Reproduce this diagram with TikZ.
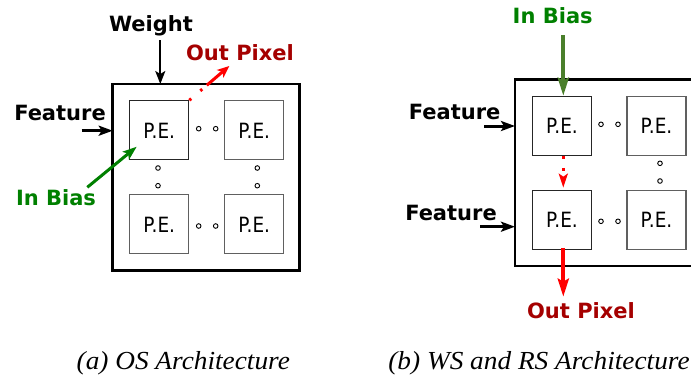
\documentclass[tikz,border=0pt]{standalone}
\usepackage{fontspec}
\setmainfont{DejaVu Sans}
\newfontfamily\pefont[FakeStretch=0.88]{DejaVu Sans}
\newfontfamily\capfont[FakeStretch=1.05]{Liberation Serif}
\usetikzlibrary{arrows.meta}
\definecolor{outred}{HTML}{A50000}
\definecolor{biasgreen}{HTML}{008000}
\definecolor{olivegreen}{HTML}{4A7F2B}
\definecolor{arrred}{HTML}{FF0000}
\definecolor{pegray}{HTML}{606060}
\tikzset{
  lbl/.style={font=\fontsize{21}{21}\selectfont\bfseries, inner sep=0pt, anchor=base},
  pebox/.style={draw=pegray, line width=1.2pt, minimum width=59pt, minimum height=59pt,
    inner sep=0pt, font=\pefont\fontsize{21}{21}\selectfont},
  pedark/.style={pebox, draw=black!85},
  outer/.style={minimum width=186.6pt, minimum height=186.7pt, inner sep=0pt, outer sep=0pt},
  frame/.style={draw, line width=2.7pt, line join=miter},
  ring/.style={draw, line width=0.9pt, circle, minimum size=4.6pt, inner sep=0pt},
  caption/.style={font=\capfont\itshape\fontsize{26}{26}\selectfont, inner sep=0pt, anchor=base},
  tip/.style={-{Stealth[length=#1, width=10pt, inset=3pt]}},
  tip/.default=13pt
}
\begin{document}
\begin{tikzpicture}[x=1pt, y=-1pt]
\useasboundingbox (0,0) rectangle (691,376);
\fill[white] (0,0) rectangle (691,376);

% ---------- (a) output stationary array ----------
\node[outer] (boxA) at (206,177.35) {};
\draw[frame] (boxA.north west) rectangle (boxA.south east);
\node[pedark] (a11) at (159.2,130.35) {P.E.};
\node[pebox]  (a12) at (254.2,130.35) {P.E.};
\node[pebox]  (a21) at (159.2,224.35) {P.E.};
\node[pebox]  (a22) at (254.2,224.35) {P.E.};

\node[ring] (ra1) at (198.7,128.7) {};
\node[ring] (ra2) at (215.7,128.7) {};
\node[ring] (ra3) at (198.7,226) {};
\node[ring] (ra4) at (215.7,226) {};
\node[ring] (ra5) at (158,168) {};
\node[ring] (ra6) at (158,185.7) {};
\node[ring] (ra7) at (257.3,168) {};
\node[ring] (ra8) at (257.3,185.7) {};

\node[lbl] (weightA) at (151,31.7) {Weight};
\node[lbl, text=outred] (outA) at (240,60) {Out Pixel};
\node[lbl] (featA) at (60,120.7) {Feature};
\node[lbl, text=biasgreen] (biasA) at (56,205) {In Bias};

\coordinate (wA) at (160.3,40);
\draw[tip, line width=2pt] (wA) -- (wA |- boxA.north);
\coordinate (fA) at (81.7,130.7);
\draw[tip=14pt, line width=3pt] (fA) -- (fA -| boxA.west);
\coordinate (bA) at (87.3,187.3);
\coordinate (bAend) at (136.7,146.7);
\draw[tip=14pt, line width=3pt, biasgreen] (bA) -- (bAend);
\coordinate (oAend) at (229.3,66);
\draw[tip=12pt, line width=3pt, arrred, dash pattern=on 2.5pt off 12pt on 2.5pt off 6pt on 60pt]
  (a11.north east) -- (oAend);

% ---------- (b) weight / row stationary array ----------
% the frame runs on past the right edge of the page
\node[outer] (boxB) at (608.3,172.65) {};
\coordinate (edgeT) at (692,79.3);
\coordinate (edgeB) at (692,266);
\draw[frame] (edgeT) -- (edgeT -| boxB.west) -- (edgeB -| boxB.west) -- (edgeB);
\node[pedark] (b11) at (562,125.8) {P.E.};
\node[pebox]  (b12) at (656.5,125.8) {P.E.};
\node[pedark] (b21) at (562,219.8) {P.E.};
\node[pebox]  (b22) at (656.5,219.8) {P.E.};

\node[ring] (rb1) at (601,124.3) {};
\node[ring] (rb2) at (618,124.3) {};
\node[ring] (rb3) at (601,221.3) {};
\node[ring] (rb4) at (618,221.3) {};
\node[ring] (rb5) at (660,163.3) {};
\node[ring] (rb6) at (660,181) {};

\node[lbl, text=biasgreen] (biasB) at (552.7,23.3) {In Bias};
\node[lbl] (featB1) at (454.7,119.3) {Feature};
\node[lbl] (featB2) at (451,220) {Feature};
\node[lbl, text=outred] (outB) at (581,318.3) {Out Pixel};

\coordinate (bB) at (563.3,35);
\draw[-{Stealth[length=18pt, width=11pt, inset=3pt]}, line width=4pt, olivegreen]
  (bB) -- (bB |- b11.north);
\coordinate (fB1) at (484,126);
\draw[tip=14pt, line width=3pt] (fB1) -- (fB1 -| boxB.west);
\coordinate (fB2) at (480,226.7);
\draw[tip=14pt, line width=3pt] (fB2) -- (fB2 -| boxB.west);
\draw[-{Stealth[length=14pt, width=9pt, inset=3pt]}, line width=3.3pt, arrred,
  dash pattern=on 3pt off 9pt on 3pt off 40pt]
  ([xshift=1.3pt]b11.south) -- ([xshift=1.3pt, yshift=2pt]b21.north);
\coordinate (oBend) at (563.3,296.7);
\draw[-{Stealth[length=18pt, width=11pt, inset=3pt]}, line width=4pt, arrred]
  ([xshift=1.3pt, yshift=2pt]b21.south) -- (oBend);

% ---------- captions ----------
\node[caption] (capA) at (183.3,369.3) {(a) OS Architecture};
\node[caption] (capB) at (539,369.3) {(b) WS and RS Architecture};
\end{tikzpicture}
\end{document}
